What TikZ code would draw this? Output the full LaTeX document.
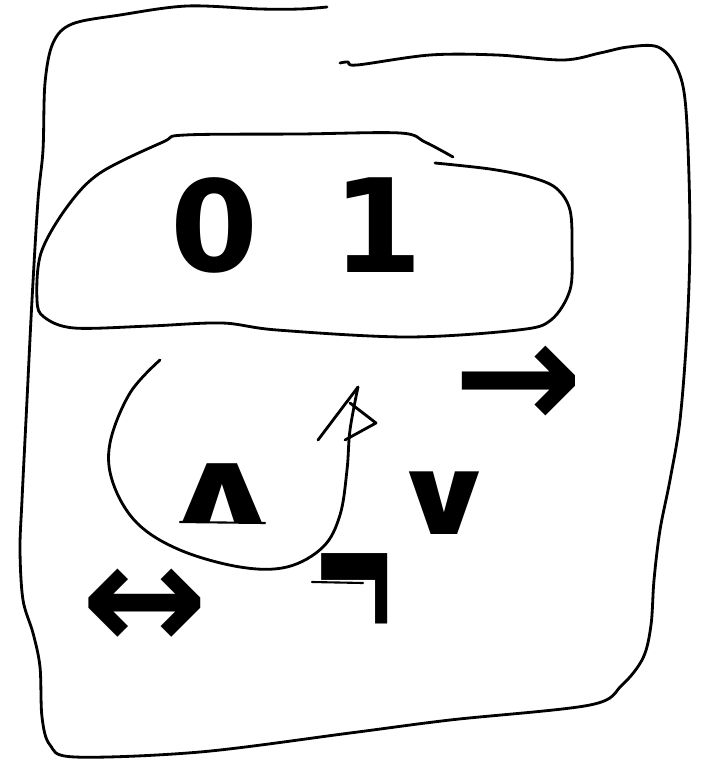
\documentclass[tikz,border=0pt]{standalone}
\usepackage{fontspec}
\usepackage{tikz}
\usetikzlibrary{positioning}
\newfontfamily\sketchfont{DejaVu Sans}
\definecolor{ink}{HTML}{000000}
\tikzset{
  pen/.style={draw=ink,line width=1.6pt,line cap=round,line join=round},
  glyph/.style={text=ink,inner sep=0pt,font=\sketchfont\bfseries}
}

\begin{document}
\begin{tikzpicture}[x=0.02cm,y=-0.02cm]
\useasboundingbox (0,0) rectangle (702,761);
% outer frame
\draw[pen] plot[smooth,tension=0.55] coordinates {(327,7) (300,9) (260,9) (187,6) (120,15) (72,24) (53,43) (45,83) (43,150) (38,200) (32,300) (27,400) (22,500) (20,550) (23,600) (33,633) (40,667) (42,717) (50,745) (75,757) (200,752) (350,733) (450,720) (590,705) (622,685) (643,658) (651,625) (654,580) (660,530) (670,480) (680,420) (687,330) (690,230) (686,110) (677,68) (658,47) (628,47) (600,53) (563,60) (497,55) (430,55) (357,65) (348,62) (340,63)};
% box with the two values
\draw[pen] plot[smooth,tension=0.55] coordinates {(453,157) (425,142) (400,133) (300,134) (185,135) (163,142) (100,173) (67,207) (41,253) (37,300) (44,317) (74,328) (150,326) (222,323) (277,330) (407,337) (518,330) (551,320) (570,290) (572,250) (570,210) (556,188) (530,177) (490,169) (435,163)};
\node[glyph,font=\sketchfont\bfseries\fontsize{72}{72}\selectfont] (zero) at (215,225) {0};
\node[glyph,font=\sketchfont\bfseries\fontsize{74}{74}\selectfont] (one) at (378,225) {1};
% curved arrow round the and
\draw[pen] plot[smooth,tension=0.6] coordinates {(160,360) (130,393) (110,443) (113,483) (137,523) (180,550) (240,567) (287,567) (323,547) (340,515) (347,470) (350,430) (358,387)};
\coordinate (tip) at (358,387);
\coordinate (barb) at (318,440);
\draw[pen] (tip) -- (barb);
\draw[pen] (350,403) -- (376,423) -- (345,440);
% connectives
\node[glyph,font=\sketchfont\bfseries\fontsize{56}{56}\selectfont] (and) at (222,494) {\scalebox{1.6}[1.05]{∧}};
\draw[pen,line width=1.2pt] (180,522) -- (265,523);
\node[glyph,font=\sketchfont\bfseries\fontsize{56}{56}\selectfont] (or) at (444,503) {\scalebox{1.4}[1.1]{∨}};
\node[glyph,font=\sketchfont\bfseries\fontsize{60}{60}\selectfont] (not) at (355,605) {\scalebox{1}[2.2]{¬}};
\draw[pen,line width=1.2pt] (312,582) -- (363,583);
\node[glyph,font=\sketchfont\bfseries\fontsize{86}{86}\selectfont] (iff) at (145,610) {↔};
\node[glyph,font=\sketchfont\bfseries\fontsize{88}{88}\selectfont] (imp) at (518,388) {→};
\end{tikzpicture}
\end{document}
